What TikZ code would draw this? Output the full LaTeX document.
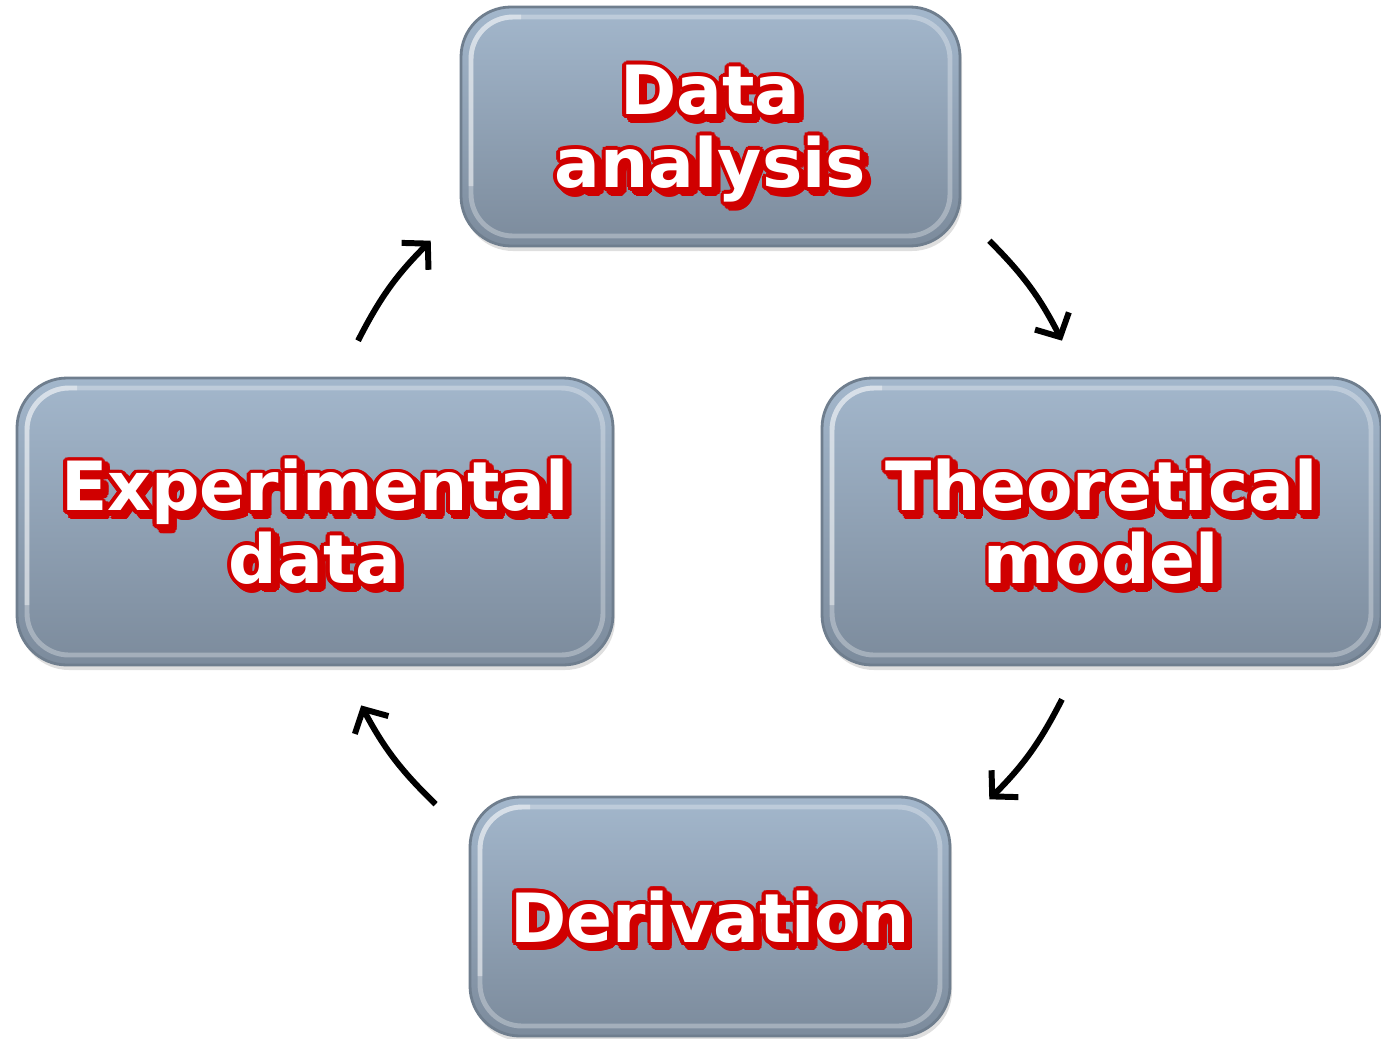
\documentclass[tikz,border=0pt]{standalone}
\usepackage{fontspec}
\usepackage{contour}
\usetikzlibrary{arrows.meta,shadows,calc}
\newfontfamily\boxfont{DejaVu Sans}

\definecolor{boxtop}{HTML}{A3B7CC}
\definecolor{boxbottom}{HTML}{7C8B9C}
\definecolor{boxedge}{HTML}{6F7E8E}
\definecolor{txtred}{HTML}{D00000}

\contourlength{1.1pt}
\newcommand{\boxtext}[1]{\leavevmode\raisebox{0pt}[\height][0pt]{\rlap{\kern1.3pt\raisebox{-1.3pt}{\textcolor{txtred}{\contour{txtred}{#1}}}}\textcolor{white}{\contour{txtred}{#1}}}}

\tikzset{
 stagebox/.style={draw=boxedge, line width=0.8pt, rounded corners=0.5cm,
  top color=boxtop, bottom color=boxbottom, inner sep=0pt, align=center,
  font=\boxfont\bfseries\fontsize{19.3}{20.7}\selectfont,
  drop shadow={opacity=0.25, shadow xshift=0.02cm, shadow yshift=-0.05cm},
  path picture={
   \draw [white, opacity=0.3, line width=1.4pt, rounded corners=0.42cm]
    ([shift={(0.1,-0.1)}]path picture bounding box.north west) rectangle
    ([shift={(-0.1,0.1)}]path picture bounding box.south east);
   \draw [white, opacity=0.4, line width=1.4pt, rounded corners=0.42cm]
    ([shift={(0.1,0.6)}]path picture bounding box.south west) --
    ([shift={(0.1,-0.1)}]path picture bounding box.north west) --
    ([shift={(0.6,-0.1)}]path picture bounding box.north west);
  }},
 cyclearrow/.style={line width=1.7pt, -{Straight Barb[length=1.8mm,width=3.8mm]}}
}

\begin{document}
\begin{tikzpicture}
 \useasboundingbox (0,0) rectangle (13.81,10.38);

 %centre of the cycle
 \coordinate (hub) at (7.10,5.18);

 %stages of the cycle
 \node [stagebox, minimum width=4.99cm, minimum height=2.39cm] (data) at (7.105,9.115) {\boxtext{Data}\\\boxtext{analysis}};
 \node [stagebox, minimum width=5.59cm, minimum height=2.87cm] (theo) at (11.015,5.165) {\boxtext{Theoretical}\\\boxtext{model}};
 \node [stagebox, minimum width=4.80cm, minimum height=2.39cm] (deriv) at (7.10,1.215) {\boxtext{Derivation}};
 \node [stagebox, minimum width=5.96cm, minimum height=2.87cm] (exper) at (3.15,5.165) {\boxtext{Experimental}\\\boxtext{data}};

 %ends of the arrows on the circle round the hub
 \coordinate (a1) at ($(hub)+(153:3.95)$);
 \coordinate (a2) at ($(hub)+(135:3.95)$);
 \coordinate (b1) at ($(hub)+(45:3.95)$);
 \coordinate (b2) at ($(hub)+(27:3.95)$);
 \coordinate (c1) at ($(hub)+(-27:3.95)$);
 \coordinate (c2) at ($(hub)+(-45:3.95)$);
 \coordinate (d1) at ($(hub)+(226:3.95)$);
 \coordinate (d2) at ($(hub)+(208:3.95)$);

 %draw arrows
 \draw [cyclearrow] (a1) to [bend left=9] (a2);
 \draw [cyclearrow] (b1) to [bend left=9] (b2);
 \draw [cyclearrow] (c1) to [bend left=9] (c2);
 \draw [cyclearrow] (d1) to [bend left=9] (d2);
\end{tikzpicture}
\end{document}
